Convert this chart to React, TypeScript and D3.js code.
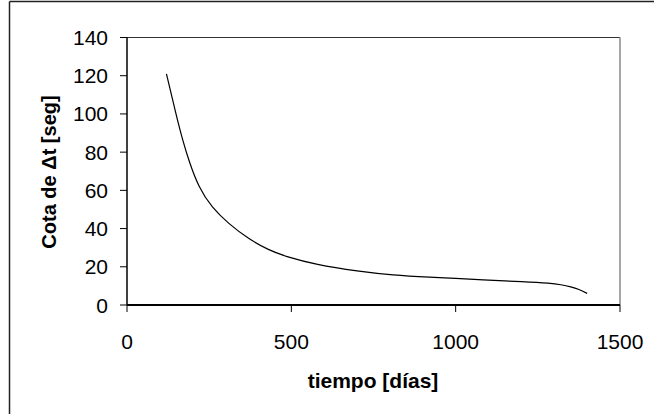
import React from "react";
import * as d3 from "d3";

// Time in days and the corresponding bound of Δt in seconds
const days = [120, 150, 170, 190, 220, 260, 310, 370, 430, 490, 580, 700, 810, 920, 1000, 1100, 1200, 1280, 1320, 1350, 1375, 1400];
const bound = [121, 99.4, 86.2, 75, 62, 51.3, 42.7, 34.9, 29.1, 25.2, 21.3, 17.9, 15.8, 14.6, 13.9, 13.0, 12.2, 11.4, 10.6, 9.5, 8.1, 6.1];
const xTicks = [0, 500, 1000, 1500];
const yTicks = [0, 20, 40, 60, 80, 100, 120, 140];

const W = 654;
const H = 414;
const left = 127;
const right = 620;
const top = 37.5;
const bottom = 305;

export default function App() {
  const x = d3.scaleLinear().domain([0, 1500]).range([left, right]);
  const y = d3.scaleLinear().domain([0, 140]).range([bottom, top]);
  const pts: [number, number][] = days.map((d, i) => [d, bound[i]]);
  const line = d3
    .line<[number, number]>()
    .x((d) => x(d[0]))
    .y((d) => y(d[1]))
    .curve(d3.curveNatural);

  const font = "'Liberation Sans', Arial, sans-serif";

  return (
    <svg
      width={W}
      height={H}
      style={{ position: "absolute", left: 0, top: 0, background: "#fff" }}
      fontFamily={font}
    >
      {/* chart frame */}
      <line x1={9.5} y1={1.5} x2={W} y2={1.5} stroke="#222" strokeWidth={1.5} />
      <line x1={9.5} y1={1.5} x2={9.5} y2={H} stroke="#222" strokeWidth={1.5} />

      {/* plot area border */}
      <line x1={left} y1={top} x2={right} y2={top} stroke="#333" strokeWidth={1} />
      <line x1={right} y1={top} x2={right} y2={bottom} stroke="#888" strokeWidth={1.5} />

      {/* y axis */}
      <line x1={left} y1={top} x2={left} y2={bottom} stroke="#000" strokeWidth={1.5} />
      {yTicks.map((t) => (
        <g key={"y" + t}>
          <line x1={left - 7} x2={left} y1={y(t)} y2={y(t)} stroke="#000" strokeWidth={1} />
          <text x={left - 19} y={y(t)} dy="0.36em" textAnchor="end" fontSize={21} fill="#000">
            {t}
          </text>
        </g>
      ))}

      {/* x axis */}
      <line x1={left} y1={bottom} x2={right} y2={bottom} stroke="#000" strokeWidth={2} />
      {xTicks.map((t) => (
        <g key={"x" + t}>
          <line x1={x(t)} x2={x(t)} y1={bottom} y2={bottom + 7} stroke="#000" strokeWidth={1} />
          <text x={x(t)} y={349} textAnchor="middle" fontSize={21} fill="#000">
            {t}
          </text>
        </g>
      ))}

      {/* series */}
      <path d={line(pts) ?? ""} fill="none" stroke="#000" strokeWidth={1.2} />

      {/* axis titles */}
      <text x={373} y={388} textAnchor="middle" fontSize={21} fontWeight="bold" fill="#000">
        tiempo [días]
      </text>
      <text
        transform={`translate(56, 172) rotate(-90)`}
        textAnchor="middle"
        fontSize={20}
        fontWeight="bold"
        fill="#000"
      >
        Cota de Δt [seg]
      </text>
    </svg>
  );
}
